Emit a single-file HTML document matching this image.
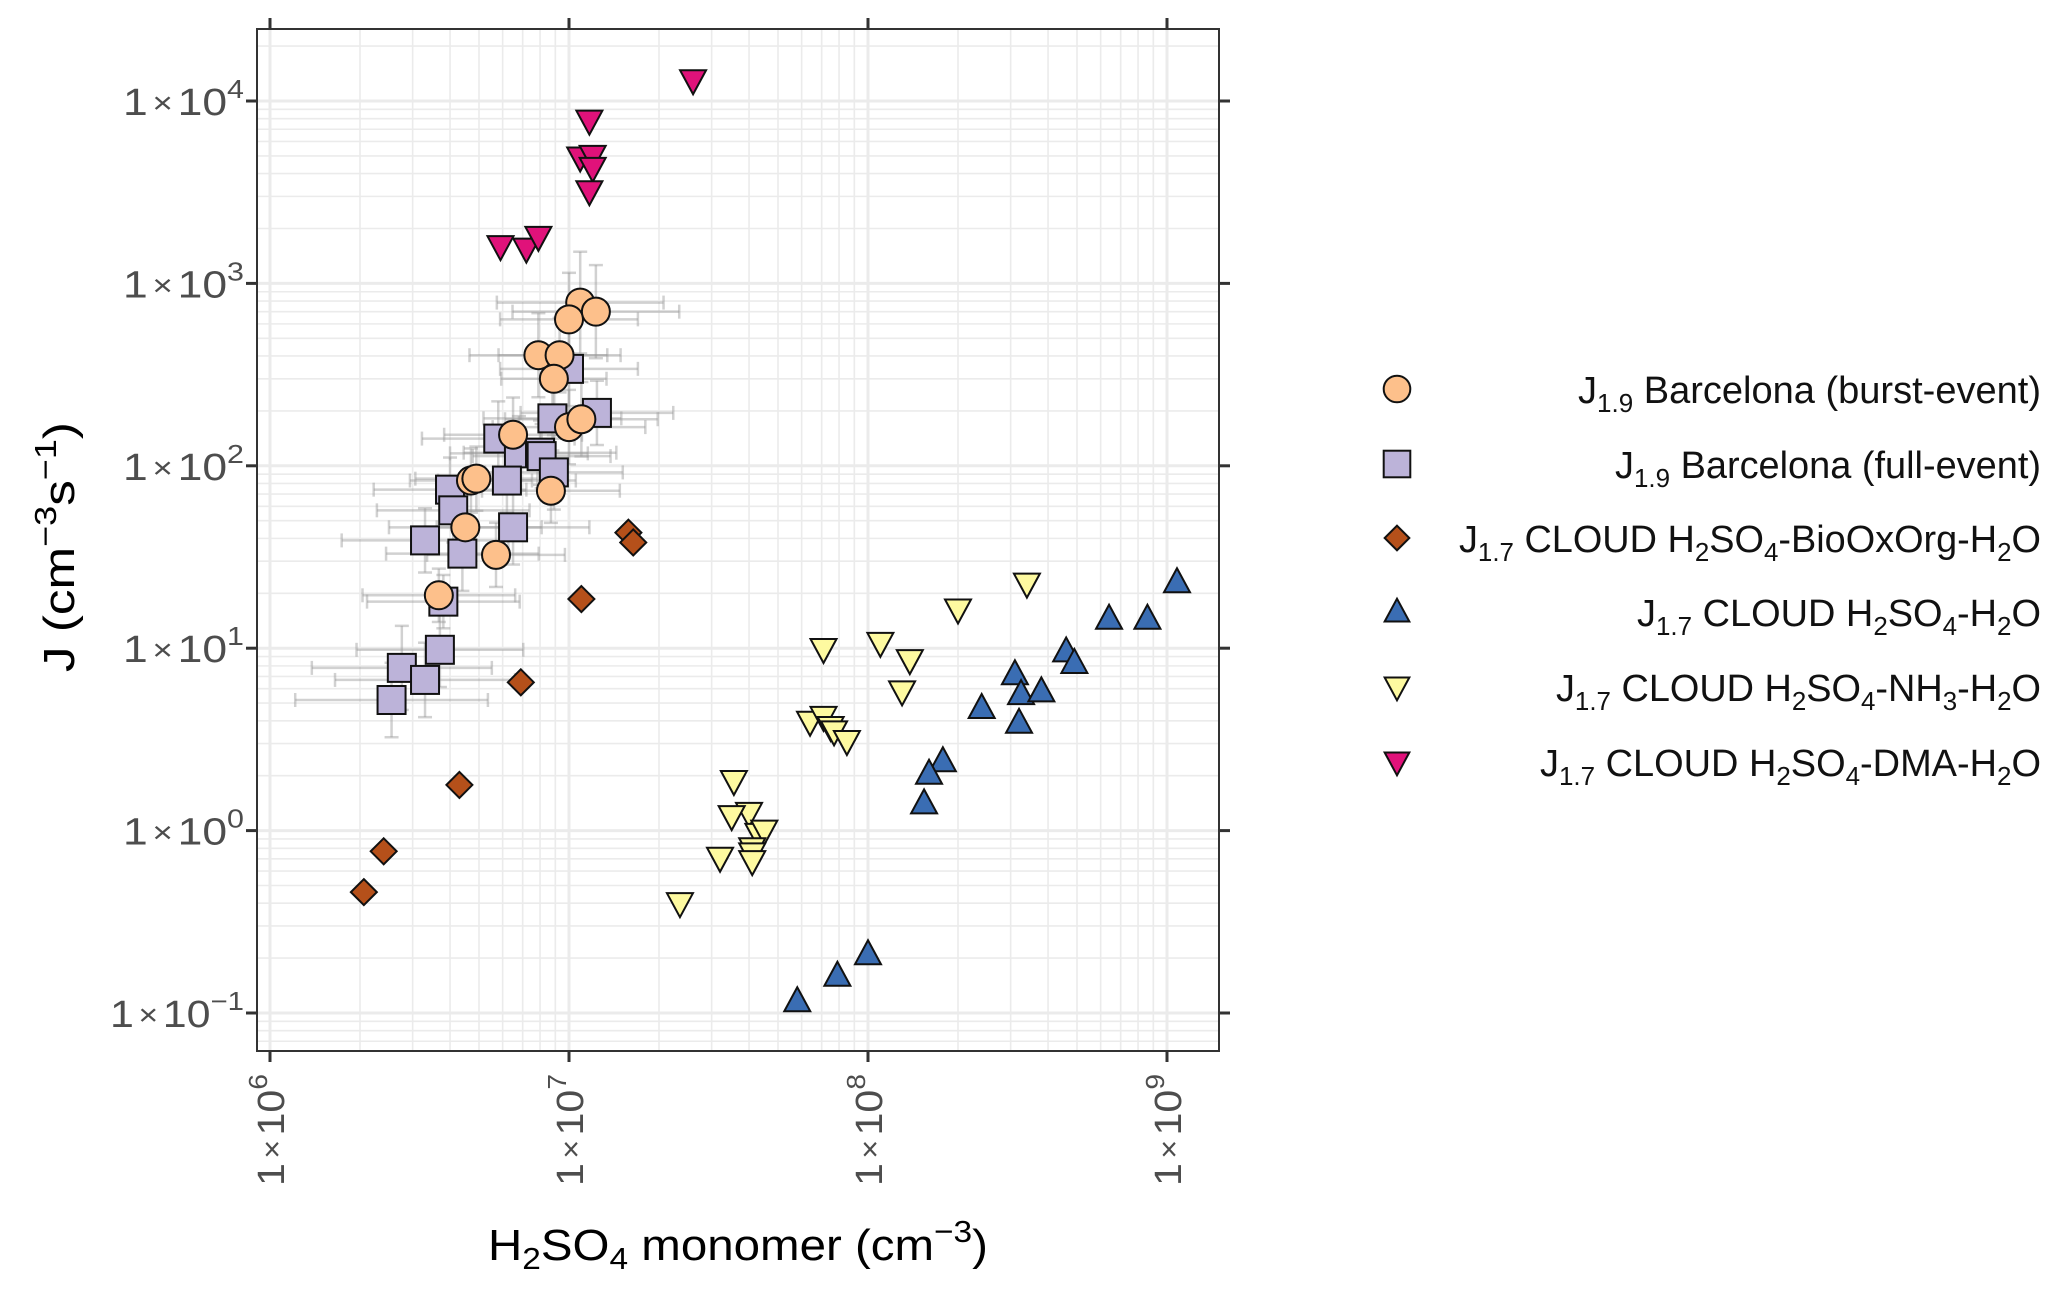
<!DOCTYPE html>
<html><head><meta charset="utf-8"><title>J vs H2SO4</title>
<style>
html,body{margin:0;padding:0;background:#fff;}
svg{display:block;font-family:"Liberation Sans",Arial,sans-serif;}
</style></head>
<body>
<svg id="chart" width="2067" height="1295" viewBox="0 0 2067 1295" xmlns="http://www.w3.org/2000/svg">
<rect x="0" y="0" width="2067" height="1295" fill="#fff"/>
<g id="grid"></g>
<g id="errs"></g>
<g id="marks"></g>
<rect x="257" y="29" width="962" height="1022" fill="none" stroke="#333" stroke-width="2"/>
<g id="axes"></g>
<text x="738" y="1260" font-size="44" text-anchor="middle" fill="#000" textLength="500" lengthAdjust="spacingAndGlyphs">H<tspan font-size="31" dy="9">2</tspan><tspan dy="-9">SO</tspan><tspan font-size="31" dy="9">4</tspan><tspan dy="-9"> monomer (cm</tspan><tspan font-size="31" dy="-18">−3</tspan><tspan dy="18">)</tspan></text>
<text transform="translate(74,547) rotate(-90)" font-size="44" text-anchor="middle" fill="#000" textLength="250" lengthAdjust="spacingAndGlyphs">J (cm<tspan font-size="31" dy="-18">−3</tspan><tspan dy="18">s</tspan><tspan font-size="31" dy="-18">−1</tspan><tspan dy="18">)</tspan></text>
<g id="legend"></g>
</svg>
<script>
// ---- data (x: H2SO4 cm^-3, y: J cm^-3 s^-1) ----
const burstX = [1.09e7,1.0e7,1.23e7,7.9e6,9.3e6,8.9e6,6.5e6,1.0e7,1.1e7,4.7e6,4.9e6,8.7e6,4.5e6,5.7e6,3.67e6];
const burstY = [785,635,700,404,404,300,148,163,180,83,85,73,46,32.5,19.5];
const fullX = [1.0e7,8.8e6,1.24e7,5.8e6,6.8e6,8.0e6,8.1e6,8.9e6,6.2e6,4.0e6,4.1e6,4.4e6,3.3e6,6.5e6,3.8e6,3.7e6,2.76e6,3.3e6,2.55e6];
const fullY = [340,182,195,141,117,118,113,92,83,74,57,33,39,46,18,9.8,7.8,6.7,5.2];
const bioX = [1.58e7,1.64e7,1.1e7,6.9e6,4.3e6,2.4e6,2.06e6];
const bioY = [43,38,18.6,6.5,1.78,0.77,0.46];
const binX = [1.08e9,8.6e8,6.4e8,4.6e8,4.9e8,3.1e8,3.25e8,3.8e8,3.2e8,2.4e8,1.78e8,1.6e8,1.54e8,1.0e8,7.9e7,5.8e7];
const binY = [23,14.5,14.5,9.6,8.3,7.2,5.6,5.8,3.9,4.7,2.4,2.05,1.41,0.21,0.16,0.116];
const nh3X = [3.4e8,2.0e8,1.1e8,7.1e7,1.38e8,1.3e8,6.4e7,7.1e7,7.5e7,7.7e7,8.5e7,3.56e7,4.0e7,3.5e7,4.3e7,4.5e7,4.1e7,4.1e7,3.2e7,4.1e7,2.35e7];
const nh3Y = [22.6,16.3,10.7,9.9,8.6,5.8,3.95,4.2,3.7,3.5,3.1,1.87,1.25,1.2,0.96,1.0,0.8,0.75,0.71,0.68,0.40];
const dmaX = [2.6e7,1.17e7,1.09e7,1.2e7,1.2e7,1.17e7,5.9e6,7.2e6,7.9e6];
const dmaY = [1.3e4,7.8e3,4.9e3,5.0e3,4.3e3,3.2e3,1.6e3,1.55e3,1.8e3];
// error factors (multiplicative) for Barcelona data
const burstXerr = [1.9,1.7,1.9,1.7,1.6,1.5,1.7,1.8,1.8,1.6,1.6,1.7,1.8,1.7,1.8];
const burstYerr = [1.9,1.8,1.8,1.7,1.6,1.5,1.6,1.6,1.6,1.5,1.5,1.5,1.5,1.5,1.4];
const fullXerr = [1.7,1.7,1.8,1.8,1.7,1.8,1.7,1.7,1.7,1.8,1.8,1.8,1.9,1.8,1.8,1.9,2.0,2.0,2.1];
const fullYerr = [1.6,1.5,1.5,1.6,1.6,1.5,1.5,1.6,1.5,1.5,1.5,1.6,1.5,1.6,1.4,1.6,1.7,1.6,1.6];
const xTickExp = [6,7,8,9];
const yTickExp = [4,3,2,1,0,-1];

const NS="http://www.w3.org/2000/svg";
const L=257,R=1219,T=29,B=1051;
function sx(v){return 270+(Math.log10(v)-6)*299;}
function sy(v){return 101+(4-Math.log10(v))*182.4;}
function mk(tag,attrs,parent){const e=document.createElementNS(NS,tag);for(const k in attrs)e.setAttribute(k,attrs[k]);parent.appendChild(e);return e;}

// grid
const grid=document.getElementById('grid');
for(let e=5;e<=9;e++){for(let m=1;m<=9;m++){const v=m*Math.pow(10,e);const x=sx(v);if(x<L||x>R)continue;
 const ln=mk('line',{x1:x,x2:x,y1:T,y2:B,stroke:'#ebebeb','stroke-width':m===1?3:1.6},grid);
 
 }}
for(let e=-2;e<=4;e++){for(let m=1;m<=9;m++){const v=m*Math.pow(10,e);const y=sy(v);if(y<T||y>B)continue;
 const ln=mk('line',{x1:L,x2:R,y1:y,y2:y,stroke:'#ebebeb','stroke-width':m===1?3:1.6},grid);
 
 }}

// error bars
const errs=document.getElementById('errs');
function drawErr(xs,ys,xe,ye){for(let i=0;i<xs.length;i++){const x=sx(xs[i]),y=sy(ys[i]);
 const x1=sx(xs[i]/xe[i]),x2=sx(xs[i]*xe[i]),y1=sy(ys[i]*ye[i]),y2=sy(ys[i]/ye[i]);
 const g=mk('g',{stroke:'#9a9a9a','stroke-opacity':0.45,'stroke-width':2.5,fill:'none'},errs);
 
 
 mk('line',{x1:x1,x2:x2,y1:y,y2:y},g);
 mk('line',{x1:x1,x2:x1,y1:y-7,y2:y+7},g);mk('line',{x1:x2,x2:x2,y1:y-7,y2:y+7},g);
 mk('line',{x1:x,x2:x,y1:y1,y2:y2},g);
 mk('line',{x1:x-7,x2:x+7,y1:y1,y2:y1},g);mk('line',{x1:x-7,x2:x+7,y1:y2,y2:y2},g);}}
drawErr(fullX,fullY,fullXerr,fullYerr);
drawErr(burstX,burstY,burstXerr,burstYerr);

// shapes
function shape(kind,x,y,fill,parent,s){s=s||1;let el;
 if(kind==='circle')el=mk('circle',{cx:x,cy:y,r:14*s},parent);
 else if(kind==='square')el=mk('rect',{x:x-14*s,y:y-14*s,width:28*s,height:28*s},parent);
 else if(kind==='diamond')el=mk('polygon',{points:`${x},${y-13*s} ${x+13*s},${y} ${x},${y+13*s} ${x-13*s},${y}`},parent);
 else if(kind==='up')el=mk('polygon',{points:`${x},${y-14*s} ${x+13*s},${y+10*s} ${x-13*s},${y+10*s}`},parent);
 else el=mk('polygon',{points:`${x-13*s},${y-10*s} ${x+13*s},${y-10*s} ${x},${y+14*s}`},parent);
 el.setAttribute('fill',fill);el.setAttribute('stroke','#111');el.setAttribute('stroke-width',2);return el;}
const marks=document.getElementById('marks');
const series=[
 {x:fullX,y:fullY,k:'square',c:'#bcb3d9',n:'full-event-point'},
 {x:burstX,y:burstY,k:'circle',c:'#fdc08b',n:'burst-event-point'},
 {x:bioX,y:bioY,k:'diamond',c:'#b5501a',n:'biooxorg-point'},
 {x:binX,y:binY,k:'up',c:'#3a6db3',n:'h2so4-h2o-point'},
 {x:nh3X,y:nh3Y,k:'down',c:'#fefaa0',n:'nh3-point'},
 {x:dmaX,y:dmaY,k:'down',c:'#e0127a',n:'dma-point'}];
series.forEach(s=>{for(let i=0;i<s.x.length;i++){const el=shape(s.k,sx(s.x[i]),sy(s.y[i]),s.c,marks);
 
 }});

// axes ticks and labels
const axes=document.getElementById('axes');
const lab=e=>'1<tspan font-size="30" dx="4" dy="-2">×</tspan><tspan dx="4" dy="2">10</tspan><tspan font-size="26" dy="-17">'+(e<0?'−'+(-e):e)+'</tspan>';
yTickExp.forEach(e=>{const y=sy(Math.pow(10,e));
 mk('line',{x1:L-11,x2:L,y1:y,y2:y,stroke:'#333','stroke-width':3},axes);
 mk('line',{x1:R,x2:R+11,y1:y,y2:y,stroke:'#333','stroke-width':3},axes);
 const t=mk('text',{x:123,y:y+14,'font-size':38,fill:'#4d4d4d',textLength:e<0?134:121,lengthAdjust:'spacingAndGlyphs'},axes);
 if(e<0)t.setAttribute('x',110);
 
 
 t.innerHTML=lab(e);});
xTickExp.forEach(e=>{const x=sx(Math.pow(10,e));
 mk('line',{x1:x,x2:x,y1:B,y2:B+11,stroke:'#333','stroke-width':3},axes);
 mk('line',{x1:x,x2:x,y1:T-11,y2:T,stroke:'#333','stroke-width':3},axes);
 const t=mk('text',{transform:`translate(${x+14},1186) rotate(-90)`,'font-size':38,fill:'#4d4d4d',textLength:112,lengthAdjust:'spacingAndGlyphs'},axes);
 
 
 t.innerHTML=lab(e);});

// legend
const leg=document.getElementById('legend');
const sub=s=>'<tspan font-size="26" dy="9">'+s+'</tspan><tspan dy="-9">';
const legRows=[
 {k:'circle',c:'#fdc08b',y:389,w:463,h:'J'+sub('1.9')+' Barcelona (burst-event)</tspan>',n:'legend-burst-event'},
 {k:'square',c:'#bcb3d9',y:464,w:426,h:'J'+sub('1.9')+' Barcelona (full-event)</tspan>',n:'legend-full-event'},
 {k:'diamond',c:'#b5501a',y:538,w:582,h:'J'+sub('1.7')+' CLOUD H</tspan>'+sub('2')+'SO</tspan>'+sub('4')+'-BioOxOrg-H</tspan>'+sub('2')+'O</tspan>',n:'legend-biooxorg'},
 {k:'up',c:'#3a6db3',y:612,w:404,h:'J'+sub('1.7')+' CLOUD H</tspan>'+sub('2')+'SO</tspan>'+sub('4')+'-H</tspan>'+sub('2')+'O</tspan>',n:'legend-h2so4-h2o'},
 {k:'down',c:'#fefaa0',y:687,w:485,h:'J'+sub('1.7')+' CLOUD H</tspan>'+sub('2')+'SO</tspan>'+sub('4')+'-NH</tspan>'+sub('3')+'-H</tspan>'+sub('2')+'O</tspan>',n:'legend-nh3'},
 {k:'down',c:'#e0127a',y:762,w:501,h:'J'+sub('1.7')+' CLOUD H</tspan>'+sub('2')+'SO</tspan>'+sub('4')+'-DMA-H</tspan>'+sub('2')+'O</tspan>',n:'legend-dma'}];
legRows.forEach(r=>{const g=mk('g',{},leg);
 
 
 shape(r.k,1397,r.y,r.c,g,0.95);
 const t=mk('text',{x:2041-r.w,y:r.y+14,'font-size':38,fill:'#111',textLength:r.w,lengthAdjust:'spacingAndGlyphs'},g);
 t.innerHTML=r.h;});
</script>
</body></html>
